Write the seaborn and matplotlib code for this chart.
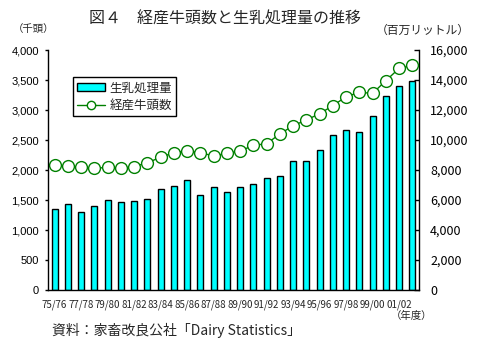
import numpy as np
import pandas as pd
import matplotlib
matplotlib.use("Agg")
import matplotlib.pyplot as plt
from matplotlib.patches import Patch
from matplotlib.lines import Line2D
import seaborn as sns

# Dairy seasons (fiscal years)
seasons = ["75/76", "76/77", "77/78", "78/79", "79/80", "80/81", "81/82",
           "82/83", "83/84", "84/85", "85/86", "86/87", "87/88", "88/89",
           "89/90", "90/91", "91/92", "92/93", "93/94", "94/95", "95/96",
           "96/97", "97/98", "98/99", "99/00", "00/01", "01/02", "02/03"]

# Milk processed (million litres) - right axis
milk = [5380, 5710, 5180, 5580, 5980, 5850, 5910, 6050, 6710, 6910,
        7310, 6310, 6850, 6510, 6850, 7050, 7440, 7600, 8600, 8600,
        9330, 10310, 10650, 10510, 11580, 12910, 13580, 13910]

# Cows in milk (thousand head) - left axis
cows = [2083, 2067, 2044, 2028, 2044, 2028, 2056, 2122, 2211, 2289,
        2317, 2289, 2233, 2278, 2317, 2410, 2439, 2600, 2739, 2833,
        2939, 3072, 3222, 3294, 3278, 3489, 3694, 3744]

left_ticks = [0, 500, 1000, 1500, 2000, 2500, 3000, 3500, 4000]
right_ticks = [0, 2000, 4000, 6000, 8000, 10000, 12000, 14000, 16000]

BAR_COLOR = "#00FFFF"
LINE_COLOR = "#008000"

sns.set_style("white")
plt.rcParams["font.family"] = ["Noto Sans CJK JP", "DejaVu Sans"]

df = pd.DataFrame({"season": seasons, "milk": milk, "cows": cows,
                   "pos": np.arange(len(seasons))})
n = len(seasons)

fig = plt.figure(figsize=(4.92, 3.42), dpi=100)
W, H = 492, 342
ax = fig.add_axes([48 / W, 1 - 290 / H, (419 - 48) / W, (290 - 50) / H])
ax2 = ax.twinx()

# bars on the secondary (right) axis
sns.barplot(data=df, x="season", y="milk", order=seasons, ax=ax2,
            color=BAR_COLOR, saturation=1, width=0.45,
            edgecolor="black", linewidth=1.0)

# line on the primary (left) axis, drawn above the bars
sns.lineplot(data=df, x="pos", y="cows", ax=ax, color=LINE_COLOR,
             linewidth=1.0, marker="o", markersize=8.5,
             markerfacecolor="white", markeredgecolor=LINE_COLOR,
             markeredgewidth=1.0)
ax.set_zorder(ax2.get_zorder() + 1)
ax.patch.set_visible(False)

ax.set_xlim(-0.5, n - 0.5)
ax.set_ylim(0, 4000)
ax2.set_ylim(0, 16000)
ax.set_xlabel("")
ax.set_ylabel("")
ax2.set_xlabel("")
ax2.set_ylabel("")

# left axis
ax.set_yticks(left_ticks)
ax.set_yticklabels([f"{v:,}" for v in left_ticks], fontsize=8,
                   family=["Liberation Sans", "DejaVu Sans"])
ax.tick_params(axis="y", direction="out", length=2.5, width=1,
               pad=4, colors="black")

# right axis
ax2.set_yticks(right_ticks)
ax2.set_yticklabels([f"{v:,}" for v in right_ticks], fontsize=9)
ax2.tick_params(axis="y", direction="in", length=3.6, width=1,
                pad=8, colors="black")

# x axis: labels every other season, tick marks every third boundary
ax.set_xticks(np.arange(0, n, 2))
ax.set_xticklabels(seasons[::2], fontsize=7)
ax.set_xticks(np.arange(2.5, n - 1, 3), minor=True)
ax.tick_params(axis="x", which="major", length=0, pad=7)
ax.tick_params(axis="x", which="minor", direction="in", length=3,
               width=1, color="black")

for s in ["top", "right"]:
    ax.spines[s].set_visible(False)
for s in ["top", "left", "bottom"]:
    ax2.spines[s].set_visible(False)
for s in ["left", "bottom"]:
    ax.spines[s].set_color("black")
    ax.spines[s].set_linewidth(1)
ax2.spines["right"].set_color("black")
ax2.spines["right"].set_linewidth(1)

handles = [Patch(facecolor=BAR_COLOR, edgecolor="black", linewidth=1.0),
           Line2D([], [], color=LINE_COLOR, linewidth=1.0, marker="o",
                  markersize=6, markerfacecolor="white",
                  markeredgecolor=LINE_COLOR)]
leg = ax.legend(handles, ["生乳処理量", "経産牛頭数"], loc="upper left",
                bbox_to_anchor=(73 / W, 1 - 77 / H),
                bbox_transform=fig.transFigure, borderaxespad=0,
                frameon=True, fancybox=False, framealpha=1,
                edgecolor="black", fontsize=9, handlelength=2.2,
                handleheight=0.6, handletextpad=0.35, labelspacing=0.35,
                borderpad=0.35)
leg.get_frame().set_linewidth(1.0)

fig.text(225 / W, 1 - 19 / H, "図４　経産牛頭数と生乳処理量の推移",
         ha="center", va="center", fontsize=11.5)
fig.text(34 / W, 1 - 29 / H, "（千頭）", ha="center", va="center",
         fontsize=7.5)
fig.text(423 / W, 1 - 30 / H, "（百万リットル）", ha="center", va="center",
         fontsize=8.5)
fig.text(412 / W, 1 - 316 / H, "（年度）", ha="center", va="center",
         fontsize=7.5)
fig.text(52 / W, 1 - 330 / H, "資料：家畜改良公社「Dairy Statistics」",
         ha="left", va="center", fontsize=10)

fig.savefig("out.png", dpi=100)
